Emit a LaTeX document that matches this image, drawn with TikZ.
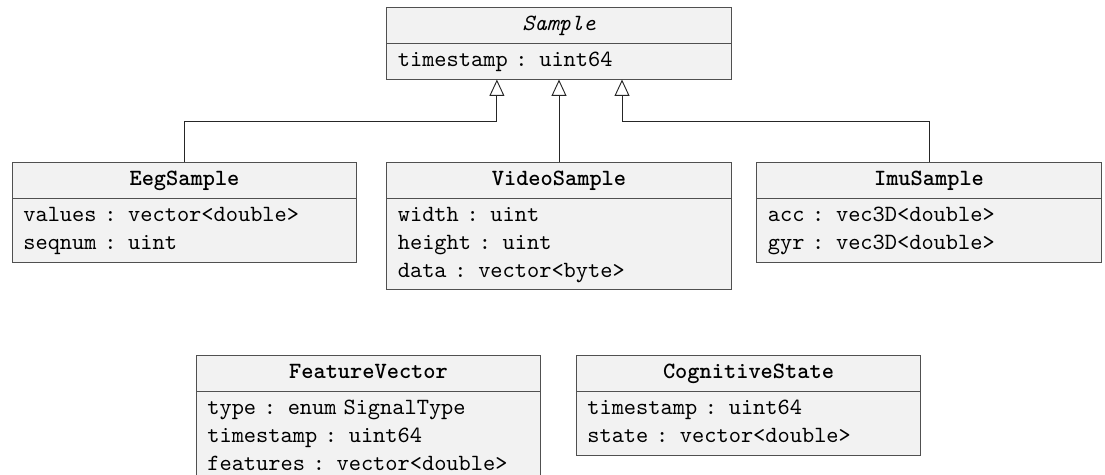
\documentclass[tikz,border=0pt]{standalone}
\usetikzlibrary{shapes.multipart,arrows.meta}
\definecolor{umlFill}{RGB}{242,242,242}
\definecolor{umlLine}{RGB}{80,80,80}
\newcommand{\umltitle}[1]{\makebox[\hsize][c]{\strut#1}}

\begin{document}
\begin{tikzpicture}[x=0.43pt, y=-0.43pt,
    umlclass/.style={rectangle split, rectangle split parts=2, draw=umlLine, fill=umlFill, anchor=north, text width=138.6pt, inner xsep=4.7pt, inner ysep=1.5pt, font=\ttfamily},
    inherits/.style={-{Triangle[open,length=7pt,width=6.4pt]}, line width=0.4pt, draw=black!85}]
    \useasboundingbox (0,0) rectangle (1105,475);
    % base class
    \node[umlclass] (sample) at (559,7) {\umltitle{\textit{Sample}} \nodepart{two} \strut timestamp : uint64\strut};
    % sensor samples
    \node[umlclass] (eeg) at (184.5,162) {\umltitle{\textbf{EegSample}} \nodepart{two} \strut values : vector<double>\\seqnum : uint\strut};
    \node[umlclass] (video) at (559,162) {\umltitle{\textbf{VideoSample}} \nodepart{two} \strut width : uint\\height : uint\\data : vector<byte>\strut};
    \node[umlclass] (imu) at (929,162) {\umltitle{\textbf{ImuSample}} \nodepart{two} \strut acc : vec3D<double>\\gyr : vec3D<double>\strut};
    % derived data
    \node[umlclass] (feature) at (368.5,355) {\umltitle{\textbf{FeatureVector}} \nodepart{two} \strut type : enum\kern0.3em SignalType\\timestamp : uint64\\features : vector<double>\strut};
    \node[umlclass] (cognitive) at (748.5,355) {\umltitle{\textbf{CognitiveState}} \nodepart{two} \strut timestamp : uint64\\state : vector<double>\strut};
    % generalisations
    \draw[inherits] (eeg.north) -- ++(0,-41) -| ([xshift=-26.7pt]sample.south);
    \draw[inherits] (video.north) -- (video.north |- sample.south);
    \draw[inherits] (imu.north) -- ++(0,-41) -| ([xshift=27.1pt]sample.south);
\end{tikzpicture}
\end{document}
